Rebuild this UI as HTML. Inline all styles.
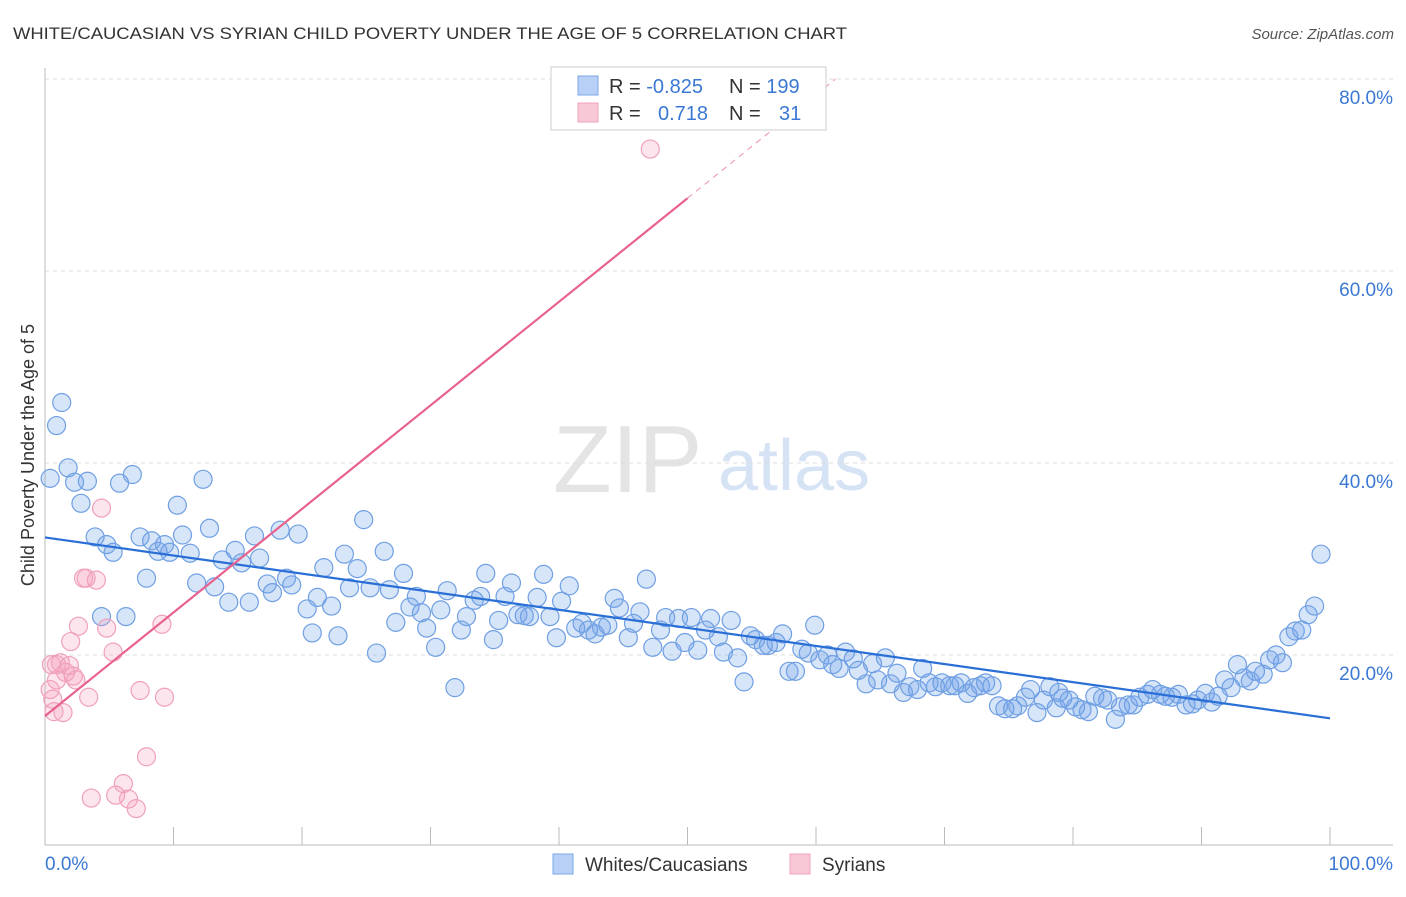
<!DOCTYPE html>
<html><head><meta charset="utf-8"><style>
body{margin:0;background:#fff;font-family:"Liberation Sans",sans-serif;}
svg text{font-family:"Liberation Sans",sans-serif;}
</style></head><body>
<svg id="chart" width="1406" height="892" xmlns="http://www.w3.org/2000/svg">
<text x="13" y="39" font-size="17" fill="#333" textLength="834" lengthAdjust="spacingAndGlyphs">WHITE/CAUCASIAN VS SYRIAN CHILD POVERTY UNDER THE AGE OF 5 CORRELATION CHART</text>
<text x="1394" y="39" font-size="15" fill="#555" font-style="italic" text-anchor="end">Source: ZipAtlas.com</text>
<g>
<text x="553" y="492" font-size="96" fill="#e4e4e4" font-family="Liberation Serif">ZIP</text>
<text x="718" y="490" font-size="72" fill="#d6e3f5">atlas</text>
</g>
<text transform="translate(34,455) rotate(-90)" font-size="18" fill="#333" text-anchor="middle">Child Poverty Under the Age of 5</text>
<g id="grid"></g>
<g id="axes"></g>
<g id="marks"></g>
<g id="lines"></g>
<g>
<rect x="551" y="67" width="275" height="63" fill="#fff" stroke="#ccc"/>
<rect x="578" y="76" width="20" height="19" fill="#b8d0f5" stroke="#7aa6e6"/>
<rect x="578" y="103" width="20" height="19" fill="#f8c8d6" stroke="#f0a0bc"/>
<text x="609" y="93" font-size="20" fill="#333">R = <tspan fill="#3a78d4">-0.825</tspan></text>
<text x="729" y="93" font-size="20" fill="#333">N = <tspan fill="#3a78d4">199</tspan></text>
<text x="609" y="120" font-size="20" fill="#333">R = </text>
<text x="658" y="120" font-size="20" fill="#3a78d4">0.718</text>
<text x="729" y="120" font-size="20" fill="#333">N = </text>
<text x="779" y="120" font-size="20" fill="#3a78d4">31</text>
</g>
<g>
<rect x="553" y="854" width="20" height="20" fill="#b8d0f5" stroke="#7aa6e6"/>
<text x="585" y="871" font-size="19" fill="#333">Whites/Caucasians</text>
<rect x="790" y="854" width="20" height="20" fill="#f8c8d6" stroke="#f0a0bc"/>
<text x="822" y="871" font-size="19" fill="#333">Syrians</text>
</g>
</svg>
<script>
const blueX=[0.4,0.9,1.3,1.8,2.3,2.8,3.3,3.9,4.4,4.8,5.3,5.8,6.3,6.8,7.4,7.9,8.3,8.8,9.3,9.7,10.3,10.7,11.3,11.8,12.3,12.8,13.2,13.8,14.3,14.8,15.3,15.9,16.3,16.7,17.3,17.7,18.3,18.8,19.2,19.7,20.4,20.8,21.2,21.7,22.3,22.8,23.3,23.7,24.3,24.8,25.3,25.8,26.4,26.8,27.3,27.9,28.4,28.9,29.3,29.7,30.4,30.8,31.3,31.9,32.4,32.8,33.4,33.9,34.3,34.9,35.3,35.8,36.3,36.8,37.3,37.7,38.3,38.8,39.3,39.8,40.2,40.8,41.3,41.8,42.3,42.8,43.3,43.8,44.3,44.7,45.4,45.8,46.3,46.8,47.3,47.9,48.3,48.8,49.3,49.8,50.3,50.8,51.4,51.8,52.4,52.8,53.4,53.9,54.4,54.9,55.3,55.9,56.3,56.9,57.4,57.9,58.4,58.9,59.4,59.9,60.3,60.9,61.3,61.8,62.3,62.9,63.3,63.9,64.4,64.8,65.4,65.8,66.3,66.8,67.3,67.9,68.3,68.8,69.3,69.8,70.4,70.8,71.3,71.8,72.3,72.8,73.2,73.7,74.2,74.7,75.3,75.7,76.3,76.7,77.2,77.7,78.2,78.7,79.2,79.7,80.2,80.7,81.2,81.7,82.3,82.7,83.3,83.7,84.3,84.7,85.2,85.8,86.2,86.8,87.2,87.7,88.2,88.8,89.3,89.7,90.3,90.8,91.3,91.8,92.3,92.8,93.3,93.8,94.2,94.8,95.3,95.8,96.3,96.8,97.3,97.8,98.3,98.8,99.3,78.9];
const blueY=[38.4,43.9,46.3,39.5,38.0,35.8,38.1,32.3,24.0,31.5,30.7,37.9,24.0,38.8,32.3,28.0,31.9,30.8,31.5,30.7,35.6,32.5,30.6,27.5,38.3,33.2,27.1,29.9,25.5,30.9,29.6,25.5,32.4,30.1,27.4,26.5,33.0,28.0,27.3,32.6,24.8,22.3,26.0,29.1,25.1,22.0,30.5,27.0,29.0,34.1,27.0,20.2,30.8,26.8,23.4,28.5,25.0,26.1,24.4,22.8,20.8,24.7,26.7,16.6,22.6,24.0,25.7,26.1,28.5,21.6,23.6,26.1,27.5,24.2,24.1,24.0,26.0,28.4,24.0,21.8,25.6,27.2,22.8,23.3,22.6,22.2,22.9,23.1,25.9,24.9,21.8,23.3,24.5,27.9,20.8,22.6,23.9,20.4,23.8,21.3,23.9,20.5,22.6,23.8,21.9,20.3,23.6,19.7,17.2,22.0,21.6,21.0,21.0,21.3,22.2,18.3,18.3,20.6,20.2,23.1,19.5,20.0,19.0,18.6,20.3,19.6,18.4,17.0,19.1,17.4,19.7,17.0,18.1,16.1,16.7,16.4,18.6,17.1,16.7,17.1,16.8,16.8,17.1,16.0,16.6,16.8,17.1,16.8,14.7,14.4,14.4,14.7,15.6,16.4,14.0,15.3,16.7,14.5,15.5,15.3,14.6,14.3,14.1,15.7,15.5,15.3,13.3,14.6,14.8,14.8,15.6,15.9,16.4,15.9,15.7,15.6,15.9,14.8,14.9,15.3,16.0,15.1,15.7,17.4,16.6,19.0,17.6,17.3,18.3,18.0,19.5,20.0,19.2,21.9,22.5,22.6,24.2,25.1,30.5,16.1];
const pinkX=[0.6,0.7,0.9,0.9,1.2,1.4,1.6,1.9,2.0,2.2,2.4,2.6,3.0,3.2,3.4,3.6,4.0,4.4,4.8,5.3,5.5,6.1,6.5,7.1,7.4,7.9,9.1,9.3,47.1,0.4,0.5];
const pinkY=[15.4,14.1,17.4,19.0,19.2,14.0,18.2,18.9,21.4,17.8,17.4,23.0,28.0,28.0,15.6,5.1,27.8,35.3,22.8,20.3,5.4,6.6,5.0,4.0,16.3,9.4,23.2,15.6,72.7,16.4,19.0];
const yTicks=[20,40,60,80];
const yTickLabels=["20.0%","40.0%","60.0%","80.0%"];
const xTickLabels=["0.0%","100.0%"];

const X0=45,X1=1330,YB=847,PPY=9.6;
const sx=v=>X0+(X1-X0)*v/100;
const sy=v=>YB-v*PPY;
const NS="http://www.w3.org/2000/svg";
function mk(tag,attrs,parent){const e=document.createElementNS(NS,tag);for(const k in attrs)e.setAttribute(k,attrs[k]);parent.appendChild(e);return e;}
const grid=document.getElementById('grid'),axes=document.getElementById('axes'),marks=document.getElementById('marks'),lines=document.getElementById('lines');
yTicks.forEach((t,i)=>{
  const l=mk('line',{x1:X0,x2:1393,y1:sy(t),y2:sy(t),stroke:'#ddd','stroke-dasharray':'4,4'},grid);
  
  
  const tx=mk('text',{x:1393,y:sy(t)+25,'font-size':19,fill:'#3a78d4','text-anchor':'end'},grid);
  tx.textContent=yTickLabels[i];
  
  
});
const xa=mk('line',{x1:X0,x2:1393,y1:845,y2:845,stroke:'#bbb'},axes);


const ya=mk('line',{x1:X0,x2:X0,y1:68,y2:845,stroke:'#bbb'},axes);


for(let k=0;k<=10;k++){
  const t=mk('line',{x1:sx(k*10),x2:sx(k*10),y1:827,y2:845,stroke:'#bbb'},axes);
  
  
}
const xl0=mk('text',{x:45,y:870,'font-size':19,fill:'#3a78d4'},axes);xl0.textContent=xTickLabels[0];


const xl1=mk('text',{x:1393,y:870,'font-size':19,fill:'#3a78d4','text-anchor':'end'},axes);xl1.textContent=xTickLabels[1];



blueX.forEach((v,i)=>{
  const c=mk('circle',{cx:sx(v),cy:sy(blueY[i]),r:9,fill:'rgba(110,160,235,0.28)',stroke:'#6f9fe3','stroke-width':1.2},marks);
  
  
});
pinkX.forEach((v,i)=>{
  const c=mk('circle',{cx:sx(v),cy:sy(pinkY[i]),r:9,fill:'rgba(245,160,190,0.28)',stroke:'#f0a0bc','stroke-width':1.2},marks);
  
  
});
function fit(xs,ys){const n=xs.length;let mx=0,my=0;for(let i=0;i<n;i++){mx+=xs[i];my+=ys[i];}mx/=n;my/=n;let sxy=0,sxx=0;for(let i=0;i<n;i++){sxy+=(xs[i]-mx)*(ys[i]-my);sxx+=(xs[i]-mx)**2;}const b=sxy/sxx;return [my-b*mx,b];}
const [ba,bb]=fit(blueX,blueY);
const bl=mk('line',{x1:sx(0),y1:sy(ba),x2:sx(100),y2:sy(ba+bb*100),stroke:'#2a6fd6','stroke-width':2.2},lines);


const [pa,pb]=fit(pinkX,pinkY);
const xEnd=50,xDash=Math.min(100,(80-pa)/pb);
const pl=mk('line',{x1:sx(0),y1:sy(pa),x2:sx(xEnd),y2:sy(pa+pb*xEnd),stroke:'#e8628e','stroke-width':2.2},lines);


const pd=mk('line',{x1:sx(xEnd),y1:sy(pa+pb*xEnd),x2:sx(xDash),y2:sy(pa+pb*xDash),stroke:'#f0a0bc','stroke-width':1.2,'stroke-dasharray':'6,5'},lines);


</script>
</body></html>
